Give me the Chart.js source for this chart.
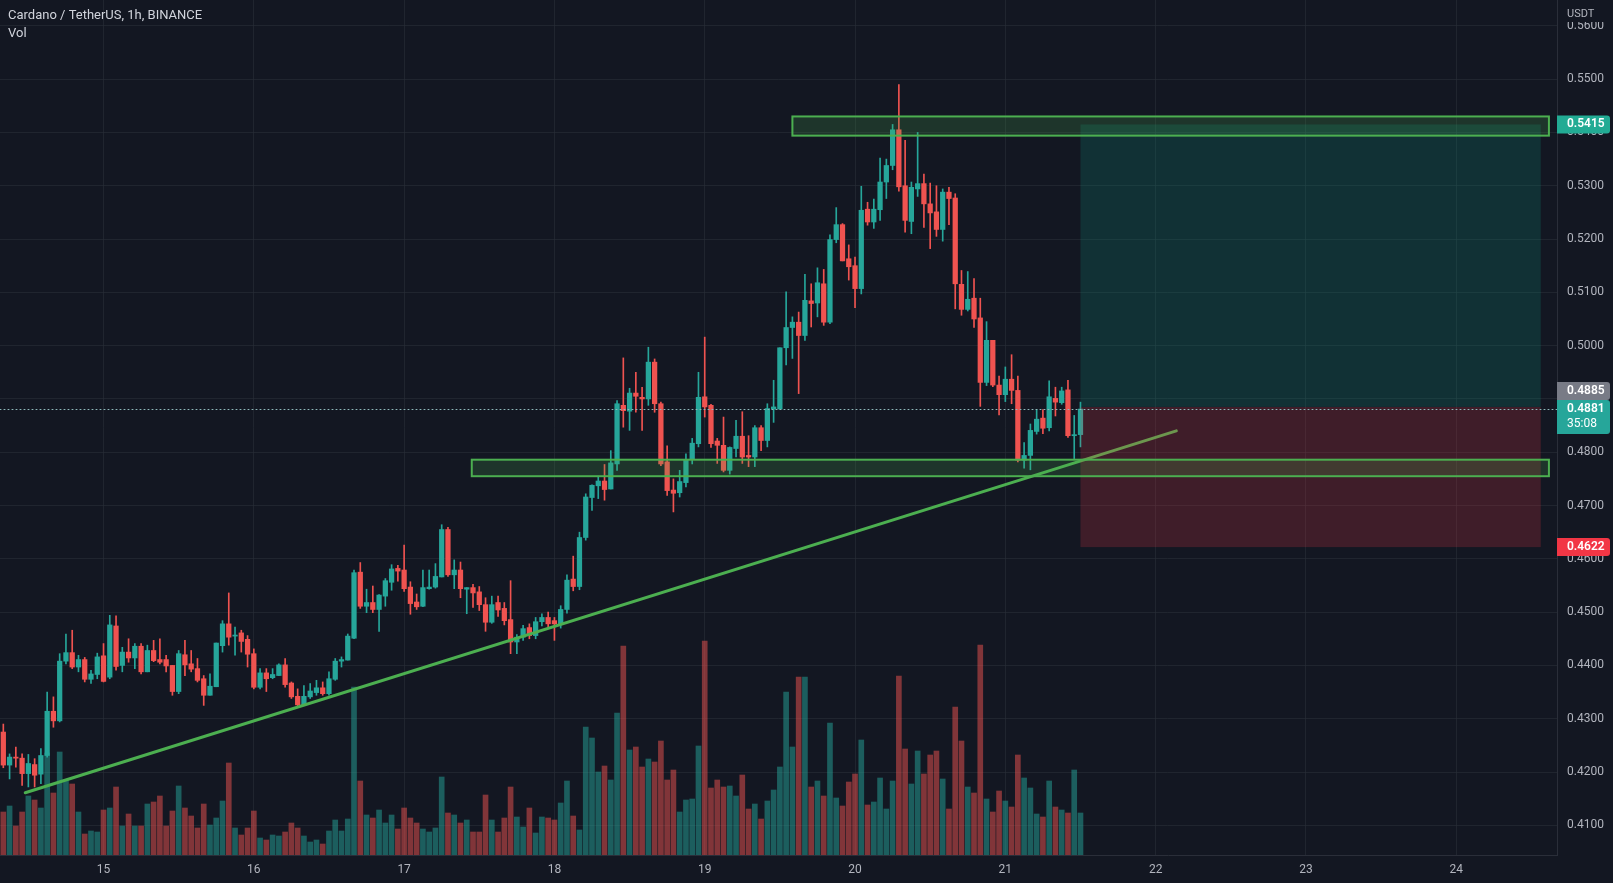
<!DOCTYPE html>
<html>
<head>
<meta charset="utf-8">
<title>Cardano / TetherUS, 1h, BINANCE</title>
<script src="https://cdn.jsdelivr.net/npm/chart.js@4.4.1/dist/chart.umd.min.js"></script>
<style>
  html, body { margin: 0; padding: 0; background: #131722; overflow: hidden; }
  #wrap { width: 1613px; height: 883px; }
</style>
</head>
<body>
<div id="wrap"><canvas id="chart"></canvas></div>
<script>
// one candle per hour, hour 0 = 15th 00:00
const firstHour = -16;

const opens = [
  0.4275, 0.4213, 0.4228, 0.4226, 0.4197, 0.4214, 0.4196, 0.4231, 0.4314, 0.4296, 0.4408, 0.4424, 0.4397, 0.4411, 0.4374, 0.4383,
  0.4418, 0.4378, 0.4474, 0.4400, 0.4425, 0.4414, 0.4436, 0.4388, 0.4428, 0.4411, 0.4411, 0.4400, 0.4351, 0.4420, 0.4403, 0.4394, 0.4375, 0.4344, 0.4360, 0.4437, 0.4478, 0.4455, 0.4461, 0.4449,
  0.4422, 0.4359, 0.4386, 0.4377, 0.4381, 0.4401, 0.4367, 0.4342, 0.4326, 0.4341, 0.4349, 0.4358, 0.4347, 0.4374, 0.4408, 0.4410, 0.4451, 0.4575, 0.4511, 0.4518, 0.4505, 0.4530, 0.4556, 0.4582,
  0.4579, 0.4547, 0.4519, 0.4511, 0.4544, 0.4547, 0.4566, 0.4655, 0.4570, 0.4579, 0.4543, 0.4546, 0.4538, 0.4514, 0.4481, 0.4518, 0.4507, 0.4486, 0.4444, 0.4453, 0.4471, 0.4456, 0.4482, 0.4490,
  0.4484, 0.4478, 0.4505, 0.4562, 0.4548, 0.4640, 0.4715, 0.4737, 0.4746, 0.4731, 0.4778, 0.4888, 0.4877, 0.4911, 0.4903, 0.4900, 0.4969, 0.4891, 0.4782, 0.4729, 0.4724, 0.4743, 0.4786, 0.4816,
  0.4904, 0.4888, 0.4821, 0.4813, 0.4766, 0.4807, 0.4830, 0.4794, 0.4791, 0.4846, 0.4822, 0.4881, 0.4881, 0.4996, 0.5034, 0.5044, 0.5019, 0.5084, 0.5080, 0.5116, 0.5044, 0.5199, 0.5227, 0.5163,
  0.5150, 0.5107, 0.5256, 0.5232, 0.5255, 0.5307, 0.5338, 0.5405, 0.5300, 0.5233, 0.5294, 0.5304, 0.5266, 0.5251, 0.5218, 0.5288, 0.5277, 0.5115, 0.5068, 0.5089, 0.5052, 0.4931, 0.5010, 0.4926,
  0.4908, 0.4937, 0.4916, 0.4785, 0.4794, 0.4839, 0.4864, 0.4846, 0.4901, 0.4893, 0.4917, 0.4831, 0.4833
];
const highs = [
  0.4290, 0.4234, 0.4247, 0.4234, 0.4233, 0.4225, 0.4244, 0.4350, 0.4341, 0.4422, 0.4459, 0.4466, 0.4419, 0.4415, 0.4391, 0.4423,
  0.4441, 0.4494, 0.4493, 0.4434, 0.4450, 0.4441, 0.4441, 0.4438, 0.4447, 0.4450, 0.4419, 0.4400, 0.4428, 0.4447, 0.4428, 0.4413, 0.4381, 0.4384, 0.4442, 0.4484, 0.4536, 0.4472, 0.4466, 0.4456,
  0.4431, 0.4394, 0.4394, 0.4394, 0.4403, 0.4413, 0.4369, 0.4356, 0.4362, 0.4366, 0.4372, 0.4369, 0.4388, 0.4413, 0.4416, 0.4459, 0.4579, 0.4593, 0.4543, 0.4549, 0.4533, 0.4563, 0.4589, 0.4588,
  0.4626, 0.4557, 0.4534, 0.4579, 0.4579, 0.4591, 0.4664, 0.4659, 0.4598, 0.4594, 0.4546, 0.4552, 0.4548, 0.4527, 0.4530, 0.4530, 0.4518, 0.4559, 0.4458, 0.4475, 0.4478, 0.4490, 0.4497, 0.4500,
  0.4490, 0.4512, 0.4570, 0.4605, 0.4650, 0.4722, 0.4739, 0.4755, 0.4777, 0.4803, 0.4897, 0.4977, 0.4920, 0.4950, 0.4922, 0.4997, 0.4975, 0.4894, 0.4812, 0.4750, 0.4766, 0.4797, 0.4826, 0.4950,
  0.5016, 0.4890, 0.4826, 0.4866, 0.4810, 0.4860, 0.4876, 0.4831, 0.4850, 0.4850, 0.4891, 0.4935, 0.4996, 0.5101, 0.5054, 0.5063, 0.5134, 0.5116, 0.5146, 0.5143, 0.5208, 0.5259, 0.5229, 0.5189,
  0.5166, 0.5299, 0.5269, 0.5275, 0.5352, 0.5350, 0.5415, 0.5490, 0.5385, 0.5307, 0.5400, 0.5322, 0.5305, 0.5300, 0.5294, 0.5297, 0.5285, 0.5141, 0.5139, 0.5126, 0.5089, 0.5045, 0.5010, 0.4943,
  0.4960, 0.4983, 0.4943, 0.4818, 0.4853, 0.4880, 0.4880, 0.4934, 0.4922, 0.4922, 0.4935, 0.4869, 0.4894
];
const lows = [
  0.4208, 0.4187, 0.4209, 0.4175, 0.4172, 0.4172, 0.4178, 0.4228, 0.4284, 0.4294, 0.4403, 0.4394, 0.4388, 0.4369, 0.4366, 0.4375,
  0.4369, 0.4375, 0.4391, 0.4388, 0.4406, 0.4394, 0.4384, 0.4388, 0.4407, 0.4403, 0.4388, 0.4344, 0.4347, 0.4381, 0.4388, 0.4369, 0.4325, 0.4344, 0.4360, 0.4425, 0.4438, 0.4419, 0.4425, 0.4397,
  0.4356, 0.4356, 0.4351, 0.4375, 0.4381, 0.4359, 0.4338, 0.4322, 0.4325, 0.4338, 0.4344, 0.4344, 0.4344, 0.4372, 0.4397, 0.4410, 0.4450, 0.4507, 0.4499, 0.4499, 0.4464, 0.4511, 0.4541, 0.4558,
  0.4539, 0.4496, 0.4505, 0.4510, 0.4543, 0.4545, 0.4566, 0.4567, 0.4544, 0.4527, 0.4497, 0.4509, 0.4503, 0.4464, 0.4479, 0.4492, 0.4476, 0.4422, 0.4422, 0.4447, 0.4450, 0.4450, 0.4474, 0.4470,
  0.4447, 0.4470, 0.4498, 0.4540, 0.4542, 0.4635, 0.4691, 0.4713, 0.4710, 0.4731, 0.4766, 0.4847, 0.4841, 0.4875, 0.4841, 0.4888, 0.4875, 0.4775, 0.4719, 0.4688, 0.4716, 0.4735, 0.4778, 0.4810,
  0.4866, 0.4809, 0.4779, 0.4763, 0.4759, 0.4791, 0.4779, 0.4773, 0.4773, 0.4803, 0.4810, 0.4856, 0.4881, 0.4964, 0.4976, 0.4910, 0.5010, 0.5035, 0.5054, 0.5038, 0.5041, 0.5193, 0.5159, 0.5123,
  0.5071, 0.5097, 0.5226, 0.5220, 0.5235, 0.5276, 0.5330, 0.5290, 0.5213, 0.5210, 0.5280, 0.5222, 0.5182, 0.5205, 0.5196, 0.5227, 0.5069, 0.5057, 0.5065, 0.5034, 0.4886, 0.4925, 0.4923, 0.4870,
  0.4895, 0.4891, 0.4782, 0.4770, 0.4767, 0.4834, 0.4835, 0.4840, 0.4868, 0.4890, 0.4828, 0.4788, 0.4810
];
const closes = [
  0.4213, 0.4228, 0.4226, 0.4197, 0.4216, 0.4194, 0.4231, 0.4314, 0.4296, 0.4408, 0.4424, 0.4397, 0.4411, 0.4374, 0.4384, 0.4416,
  0.4370, 0.4476, 0.4398, 0.4425, 0.4414, 0.4436, 0.4388, 0.4428, 0.4409, 0.4406, 0.4399, 0.4351, 0.4422, 0.4401, 0.4393, 0.4372, 0.4344, 0.4361, 0.4442, 0.4478, 0.4453, 0.4457, 0.4445, 0.4421,
  0.4359, 0.4386, 0.4375, 0.4383, 0.4401, 0.4364, 0.4341, 0.4326, 0.4342, 0.4352, 0.4358, 0.4347, 0.4375, 0.4408, 0.4411, 0.4455, 0.4574, 0.4511, 0.4518, 0.4505, 0.4532, 0.4559, 0.4581, 0.4577,
  0.4544, 0.4516, 0.4510, 0.4546, 0.4547, 0.4567, 0.4655, 0.4570, 0.4579, 0.4544, 0.4546, 0.4536, 0.4514, 0.4481, 0.4514, 0.4504, 0.4484, 0.4444, 0.4453, 0.4469, 0.4456, 0.4482, 0.4490, 0.4478,
  0.4478, 0.4505, 0.4560, 0.4548, 0.4640, 0.4716, 0.4738, 0.4746, 0.4730, 0.4780, 0.4891, 0.4878, 0.4911, 0.4905, 0.4900, 0.4969, 0.4891, 0.4778, 0.4728, 0.4723, 0.4745, 0.4786, 0.4817, 0.4903,
  0.4885, 0.4816, 0.4813, 0.4766, 0.4809, 0.4830, 0.4791, 0.4791, 0.4846, 0.4822, 0.4882, 0.4885, 0.4996, 0.5034, 0.5044, 0.5019, 0.5085, 0.5079, 0.5118, 0.5044, 0.5199, 0.5227, 0.5159, 0.5148,
  0.5107, 0.5254, 0.5232, 0.5256, 0.5307, 0.5338, 0.5405, 0.5298, 0.5235, 0.5297, 0.5304, 0.5266, 0.5249, 0.5218, 0.5288, 0.5276, 0.5116, 0.5068, 0.5087, 0.5050, 0.4931, 0.5010, 0.4926, 0.4908,
  0.4937, 0.4916, 0.4785, 0.4794, 0.4841, 0.4862, 0.4845, 0.4904, 0.4894, 0.4915, 0.4831, 0.4833, 0.4881
];
// volume, millions ADA
const volumes = [
  4.3, 4.9, 2.9, 4.3, 5.9, 5.5, 4.7, 10.2, 6.2, 10.3, 7.5, 7.1, 4.3, 2.1, 2.4, 2.3,
  4.5, 4.7, 6.8, 2.9, 4.1, 2.9, 2.9, 5.1, 5.3, 5.9, 2.9, 4.4, 6.9, 4.7, 3.9, 2.7, 5.1, 3.0, 3.7, 5.4, 9.2, 2.7, 2.0, 2.7,
  4.4, 1.7, 1.5, 2.0, 1.9, 2.3, 3.2, 2.7, 1.9, 1.3, 1.5, 1.1, 2.4, 3.5, 2.4, 3.6, 16.8, 7.4, 4.0, 3.7, 4.5, 3.2, 4.0, 2.6,
  4.7, 3.7, 3.2, 2.6, 2.3, 2.7, 7.8, 4.2, 4.0, 3.2, 3.5, 2.3, 2.3, 6.0, 3.5, 2.3, 3.7, 6.8, 3.8, 2.8, 4.7, 2.2, 3.8, 3.7,
  3.5, 5.2, 7.4, 3.9, 2.5, 12.8, 11.7, 8.3, 8.9, 7.5, 14.2, 20.9, 10.5, 10.8, 8.8, 9.6, 9.3, 11.4, 7.5, 8.5, 4.3, 5.5, 5.6, 10.9,
  21.4, 6.7, 7.5, 6.8, 6.9, 5.9, 8.0, 4.6, 5.1, 3.6, 5.4, 6.5, 8.8, 16.3, 10.8, 17.8, 17.8, 6.8, 7.4, 5.9, 13.2, 5.7, 4.9, 7.3,
  8.1, 11.5, 5.0, 5.3, 7.7, 4.6, 7.4, 17.9, 10.6, 7.1, 10.4, 8.1, 10.0, 10.4, 7.6, 4.6, 14.8, 11.4, 6.8, 6.2, 21.0, 5.6, 4.3, 6.4,
  5.4, 4.8, 10.0, 7.7, 6.7, 4.1, 3.8, 7.4, 4.8, 4.5, 4.2, 8.5, 4.2
];

const dayTicks = [0, 24, 48, 72, 96, 120, 144, 168, 192, 216];
const dayLabels = ['15', '16', '17', '18', '19', '20', '21', '22', '23', '24'];
const priceTicks = [0.41, 0.42, 0.43, 0.44, 0.45, 0.46, 0.47, 0.48, 0.49, 0.50, 0.51, 0.52, 0.53, 0.54, 0.55, 0.56];

// drawings on the chart (hours / prices)
const zoneFrom = [110, 58.8];
const zoneTo = [230.8, 230.8];
const zoneLow = [0.5394, 0.4755];
const zoneHigh = [0.5430, 0.4786];
const trendHours = [-12.5, 171.3];
const trendPrices = [0.4161, 0.4840];
const positionHours = [156, 229.5];
const targetPrice = 0.5415;
const entryPrice = 0.4885;
const stopPrice = 0.4622;
const lastPrice = 0.4881;
const countdown = '35:08';

const BG = '#131722';
const UP = '#26a69a';
const DOWN = '#ef5350';
const GRID = 'rgba(42,46,57,0.6)';
const TEXT = '#b2b5be';
const FONT = 'Roboto, "Liberation Sans", sans-serif';

const hours = opens.map((_, i) => firstHour + i);
const isUp = opens.map((o, i) => closes[i] >= o);

const drawings = {
  id: 'drawings',
  beforeDraw(chart) {
    const c = chart.ctx;
    c.save();
    c.fillStyle = BG;
    c.fillRect(0, 0, chart.width, chart.height);
    c.restore();
  },
  afterDatasetsDraw(chart) {
    const c = chart.ctx, a = chart.chartArea;
    const x = chart.scales.x, y = chart.scales.y;
    c.save();
    c.beginPath();
    c.rect(a.left, a.top, a.right - a.left, a.bottom - a.top);
    c.clip();

    // trend line
    c.strokeStyle = '#4caf50';
    c.lineWidth = 3;
    c.lineCap = 'round';
    c.beginPath();
    c.moveTo(x.getPixelForValue(trendHours[0]), y.getPixelForValue(trendPrices[0]));
    c.lineTo(x.getPixelForValue(trendHours[1]), y.getPixelForValue(trendPrices[1]));
    c.stroke();

    // long position
    const p0 = x.getPixelForValue(positionHours[0]);
    const p1 = x.getPixelForValue(positionHours[1]);
    const yT = y.getPixelForValue(targetPrice);
    const yE = y.getPixelForValue(entryPrice);
    const yS = y.getPixelForValue(stopPrice);
    c.fillStyle = 'rgba(8,153,129,0.2)';
    c.fillRect(p0, yT, p1 - p0, yE - yT);
    c.fillStyle = 'rgba(242,54,69,0.2)';
    c.fillRect(p0, yE, p1 - p0, yS - yE);

    // support / resistance zones
    zoneFrom.forEach((h, i) => {
      const l = x.getPixelForValue(h), r = x.getPixelForValue(zoneTo[i]);
      const t = y.getPixelForValue(zoneHigh[i]), b = y.getPixelForValue(zoneLow[i]);
      c.fillStyle = 'rgba(76,175,80,0.2)';
      c.fillRect(l, t, r - l, b - t);
      c.strokeStyle = '#4caf50';
      c.lineWidth = 2;
      c.strokeRect(l, t, r - l, b - t);
    });

    // last price line
    const yl = Math.round(y.getPixelForValue(lastPrice)) + 0.5;
    c.setLineDash([1, 3]);
    c.strokeStyle = '#8fb9bb';
    c.lineWidth = 1;
    c.beginPath();
    c.moveTo(a.left, yl);
    c.lineTo(a.right, yl);
    c.stroke();
    c.restore();
  },
  afterDraw(chart) {
    const c = chart.ctx, a = chart.chartArea, y = chart.scales.y;
    const w = chart.width - a.right - 3;
    c.save();

    function tag(top, h, bg) {
      c.fillStyle = bg;
      c.beginPath();
      c.roundRect(a.right, top, w, h, [0, 3, 3, 0]);
      c.fill();
    }
    function text(str, ty, weight) {
      c.fillStyle = '#ffffff';
      c.font = weight + ' 12px ' + FONT;
      c.textAlign = 'left';
      c.textBaseline = 'middle';
      c.fillText(str, a.right + 10, ty);
    }

    const yTarget = y.getPixelForValue(targetPrice);
    tag(yTarget - 9, 18, '#22ab94');
    text(targetPrice.toFixed(4), yTarget, '600');

    const yLast = y.getPixelForValue(lastPrice);
    tag(yLast - 9, 34, UP);
    text(lastPrice.toFixed(4), yLast, '600');
    text(countdown, yLast + 15, '400');

    tag(yLast - 27, 18, '#787b86');
    text(entryPrice.toFixed(4), yLast - 18, '600');

    const yStop = y.getPixelForValue(stopPrice);
    tag(yStop - 9, 18, '#f23645');
    text(stopPrice.toFixed(4), yStop, '600');

    // currency label over the top of the price scale
    c.fillStyle = BG;
    c.fillRect(a.right + 1, 0, chart.width - a.right - 1, 22);
    c.fillStyle = TEXT;
    c.font = '11px ' + FONT;
    c.textBaseline = 'middle';
    c.fillText('USDT', a.right + 10, 14);

    // legend text
    c.fillStyle = '#d1d4dc';
    c.font = '13px ' + FONT;
    c.fillText('Cardano / TetherUS, 1h, BINANCE', 8, 16);
    c.fillText('Vol', 8, 34);
    c.restore();
  }
};

const chart = new Chart(document.getElementById('chart'), {
  type: 'bar',
  data: {
    datasets: [
      {
        label: 'body',
        data: hours.map((h, i) => ({ x: h, y: [opens[i], closes[i]] })),
        backgroundColor: isUp.map(u => u ? UP : DOWN),
        barThickness: 4.6,
        minBarLength: 1,
        grouped: false,
        yAxisID: 'y',
        order: 1
      },
      {
        label: 'wick',
        data: hours.map((h, i) => ({ x: h, y: [lows[i], highs[i]] })),
        backgroundColor: isUp.map(u => u ? UP : DOWN),
        barThickness: 1,
        grouped: false,
        yAxisID: 'y',
        order: 2
      },
      {
        label: 'Vol',
        data: hours.map((h, i) => ({ x: h, y: volumes[i] })),
        backgroundColor: isUp.map(u => u ? 'rgba(38,166,154,0.5)' : 'rgba(239,83,80,0.5)'),
        barThickness: 5,
        grouped: false,
        yAxisID: 'yv',
        order: 3
      }
    ]
  },
  options: {
    responsive: true,
    maintainAspectRatio: false,
    animation: false,
    events: [],
    layout: { padding: 0 },
    plugins: {
      legend: { display: false },
      tooltip: { enabled: false }
    },
    scales: {
      x: {
        type: 'linear',
        min: -16.53,
        max: 232.09,
        offset: false,
        afterBuildTicks: s => { s.ticks = dayTicks.map(v => ({ value: v })); },
        afterFit: s => { s.height = 28; s.paddingLeft = 0; s.paddingRight = 0; },
        grid: { color: GRID, drawTicks: false, offset: false },
        border: { display: true, color: '#2a2e39' },
        ticks: {
          color: TEXT,
          font: { family: FONT, size: 12 },
          padding: 8,
          maxRotation: 0,
          autoSkip: false,
          callback: (v, i) => dayLabels[i]
        }
      },
      y: {
        type: 'linear',
        position: 'right',
        min: 0.40443,
        max: 0.56485,
        afterBuildTicks: s => { s.ticks = priceTicks.map(v => ({ value: v })); },
        afterFit: s => { s.width = 56; s.paddingTop = 0; s.paddingBottom = 0; },
        grid: { color: GRID, drawTicks: false },
        border: { display: true, color: '#2a2e39' },
        ticks: {
          color: TEXT,
          font: { family: FONT, size: 12 },
          padding: 10,
          callback: v => v.toFixed(4)
        }
      },
      yv: {
        type: 'linear',
        display: false,
        min: 0,
        max: 85.5,
        afterFit: s => { s.paddingTop = 0; s.paddingBottom = 0; }
      }
    }
  },
  plugins: [drawings]
});
</script>
</body>
</html>
